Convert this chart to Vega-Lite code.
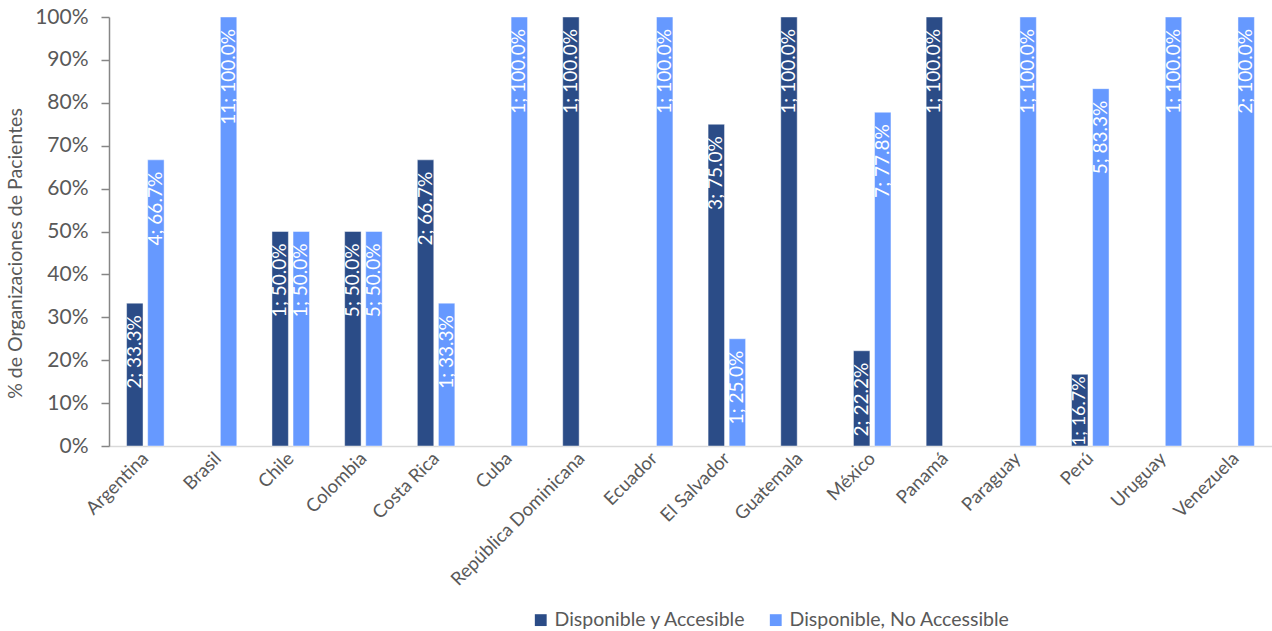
{
  "$schema": "https://vega.github.io/schema/vega-lite/v6.json",
  "width": 1163,
  "height": 429,
  "autosize": {"type": "none"},
  "padding": {"left": 109, "top": 17, "right": 0, "bottom": 185},
  "background": "white",
  "config": {
    "font": "Lato",
    "view": {"stroke": null},
    "axis": {"labelColor": "#595959", "titleColor": "#595959", "labelFont": "Lato", "titleFont": "Lato", "titleFontWeight": "normal"},
    "legend": {"labelFont": "Lato"}
  },
  "data": {
    "values": [
      {"pais": "Argentina", "estado": "Disponible y Accesible", "n": 2, "pct": 0.333},
      {"pais": "Argentina", "estado": "Disponible, No Accessible", "n": 4, "pct": 0.667},
      {"pais": "Brasil", "estado": "Disponible, No Accessible", "n": 11, "pct": 1.0},
      {"pais": "Chile", "estado": "Disponible y Accesible", "n": 1, "pct": 0.5},
      {"pais": "Chile", "estado": "Disponible, No Accessible", "n": 1, "pct": 0.5},
      {"pais": "Colombia", "estado": "Disponible y Accesible", "n": 5, "pct": 0.5},
      {"pais": "Colombia", "estado": "Disponible, No Accessible", "n": 5, "pct": 0.5},
      {"pais": "Costa Rica", "estado": "Disponible y Accesible", "n": 2, "pct": 0.667},
      {"pais": "Costa Rica", "estado": "Disponible, No Accessible", "n": 1, "pct": 0.333},
      {"pais": "Cuba", "estado": "Disponible, No Accessible", "n": 1, "pct": 1.0},
      {"pais": "República Dominicana", "estado": "Disponible y Accesible", "n": 1, "pct": 1.0},
      {"pais": "Ecuador", "estado": "Disponible, No Accessible", "n": 1, "pct": 1.0},
      {"pais": "El Salvador", "estado": "Disponible y Accesible", "n": 3, "pct": 0.75},
      {"pais": "El Salvador", "estado": "Disponible, No Accessible", "n": 1, "pct": 0.25},
      {"pais": "Guatemala", "estado": "Disponible y Accesible", "n": 1, "pct": 1.0},
      {"pais": "México", "estado": "Disponible y Accesible", "n": 2, "pct": 0.222},
      {"pais": "México", "estado": "Disponible, No Accessible", "n": 7, "pct": 0.778},
      {"pais": "Panamá", "estado": "Disponible y Accesible", "n": 1, "pct": 1.0},
      {"pais": "Paraguay", "estado": "Disponible, No Accessible", "n": 1, "pct": 1.0},
      {"pais": "Perú", "estado": "Disponible y Accesible", "n": 1, "pct": 0.167},
      {"pais": "Perú", "estado": "Disponible, No Accessible", "n": 5, "pct": 0.833},
      {"pais": "Uruguay", "estado": "Disponible, No Accessible", "n": 1, "pct": 1.0},
      {"pais": "Venezuela", "estado": "Disponible, No Accessible", "n": 2, "pct": 1.0}
    ]
  },
  "transform": [
    {"calculate": "datum.n + '; ' + format(datum.pct, '.1%')", "as": "etiqueta"}
  ],
  "encoding": {
    "x": {
      "field": "pais",
      "type": "nominal",
      "sort": null,
      "scale": {"paddingInner": 0.484, "paddingOuter": 0.242},
      "axis": {
        "title": null,
        "labelAngle": -45,
        "labelAlign": "right",
        "labelBaseline": "middle",
        "labelFontSize": 18.5,
        "labelPadding": 9,
        "labelOverlap": false,
        "labelBound": false,
        "labelLimit": 0,
        "ticks": false,
        "domainColor": "#D9D9D9",
        "domainWidth": 1.5
      }
    },
    "xOffset": {
      "field": "estado",
      "type": "nominal",
      "scale": {"domain": ["Disponible y Accesible", "Disponible, No Accessible"], "paddingInner": 0.22, "paddingOuter": 0}
    },
    "y": {
      "field": "pct",
      "type": "quantitative",
      "scale": {"domain": [0, 1], "nice": false},
      "axis": {
        "title": "% de Organizaciones de Pacientes",
        "titleFontSize": 19.5,
        "titlePadding": 9,
        "titleY": 236,
        "format": ".0%",
        "values": [0, 0.1, 0.2, 0.3, 0.4, 0.5, 0.6, 0.7, 0.8, 0.9, 1.0],
        "labelFontSize": 21,
        "labelPadding": 13,
        "labelOverlap": false,
        "labelFlush": false,
        "grid": false,
        "domainColor": "#868686",
        "domainWidth": 1.5,
        "tickColor": "#868686",
        "tickWidth": 1.5,
        "tickSize": 8
      }
    }
  },
  "layer": [
    {
      "mark": {"type": "bar", "stroke": "#ffffff", "strokeOpacity": 0.45, "strokeWidth": 1},
      "encoding": {
        "color": {
          "field": "estado",
          "type": "nominal",
          "scale": {"domain": ["Disponible y Accesible", "Disponible, No Accessible"], "range": ["#2B4C87", "#6699FF"]},
          "legend": {
            "title": null,
            "orient": "none",
            "legendX": 422,
            "legendY": 593,
            "direction": "horizontal",
            "symbolType": "square",
            "symbolSize": 140,
            "symbolStrokeWidth": 0,
            "labelFontSize": 19.5,
            "labelLimit": 0,
            "labelColor": "#595959",
            "columnPadding": 19
          }
        }
      }
    },
    {
      "transform": [{"filter": "datum.pct >= 0.2"}],
      "mark": {"type": "text", "angle": 270, "align": "right", "baseline": "middle", "dx": -12, "color": "white", "fontSize": 19},
      "encoding": {
        "text": {"field": "etiqueta"}
      }
    },
    {
      "transform": [{"filter": "datum.pct < 0.2"}],
      "mark": {"type": "text", "angle": 270, "align": "right", "baseline": "middle", "dx": -2, "color": "white", "fontSize": 18},
      "encoding": {
        "text": {"field": "etiqueta"}
      }
    }
  ]
}
